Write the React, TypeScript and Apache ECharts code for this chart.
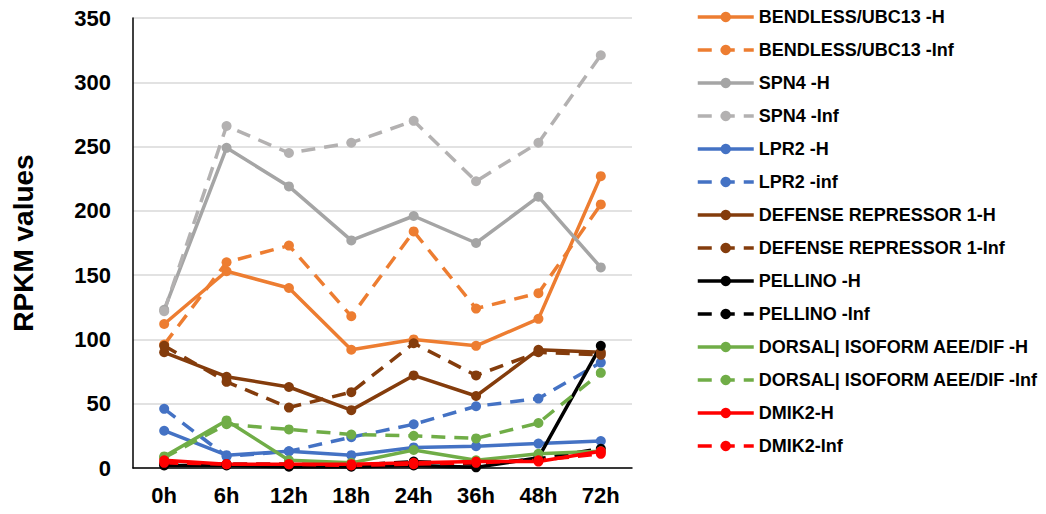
import React, { useEffect, useRef } from "react";
import * as echarts from "echarts";

const categories = ["0h", "6h", "12h", "18h", "24h", "36h", "48h", "72h"];

const bendlessH = [112, 153, 140, 92, 100, 95, 116, 227];
const bendlessInf = [96, 160, 173, 118, 184, 124, 136, 205];
const spn4H = [123, 249, 219, 177, 196, 175, 211, 156];
const spn4Inf = [122, 266, 245, 253, 270, 223, 253, 321];
const lpr2H = [29, 10, 13, 10, 16, 17, 19, 21];
const lpr2Inf = [46, 9, 13, 24, 34, 48, 54, 82];
const defenseH = [90, 71, 63, 45, 72, 56, 92, 90];
const defenseInf = [95, 67, 47, 59, 97, 72, 90, 88];
const pellinoH = [2, 2, 1, 1, 2, 0.5, 8, 95];
const pellinoInf = [3, 3, 3, 2, 5, 3, 7, 15];
const dorsalH = [9, 37, 6, 4, 14, 6, 11, 13];
const dorsalInf = [8, 34, 30, 26, 25, 23, 35, 74];
const dmik2H = [6, 3, 3, 3, 4, 5, 5, 13];
const dmik2Inf = [4, 3, 3, 2, 3, 4, 6, 11];

const seriesDefs = [
  { name: "BENDLESS/UBC13 -H", data: bendlessH, color: "#ED7D31", dashed: false },
  { name: "BENDLESS/UBC13 -Inf", data: bendlessInf, color: "#ED7D31", dashed: true },
  { name: "SPN4 -H", data: spn4H, color: "#A5A5A5", dashed: false },
  { name: "SPN4 -Inf", data: spn4Inf, color: "#B3B1B1", dashed: true },
  { name: "LPR2 -H", data: lpr2H, color: "#4472C4", dashed: false },
  { name: "LPR2 -inf", data: lpr2Inf, color: "#4472C4", dashed: true },
  { name: "DEFENSE REPRESSOR 1-H", data: defenseH, color: "#843C0C", dashed: false },
  { name: "DEFENSE REPRESSOR 1-Inf", data: defenseInf, color: "#843C0C", dashed: true },
  { name: "PELLINO -H", data: pellinoH, color: "#000000", dashed: false },
  { name: "PELLINO -Inf", data: pellinoInf, color: "#000000", dashed: true },
  { name: "DORSAL| ISOFORM AEE/DIF -H", data: dorsalH, color: "#70AD47", dashed: false },
  { name: "DORSAL| ISOFORM AEE/DIF -Inf", data: dorsalInf, color: "#70AD47", dashed: true },
  { name: "DMIK2-H", data: dmik2H, color: "#FF0000", dashed: false },
  { name: "DMIK2-Inf", data: dmik2Inf, color: "#FF0000", dashed: true },
];

const FONT = "Liberation Sans, Arial, sans-serif";

export default function App() {
  const ref = useRef<HTMLDivElement>(null);
  useEffect(() => {
    if (!ref.current) return;
    const chart = echarts.init(ref.current, null, { renderer: "svg" });
    chart.setOption({
      animation: false,
      backgroundColor: "#ffffff",
      grid: { left: 133, top: 18, width: 499, bottom: 46 },
      legend: {
        orient: "vertical",
        left: 696,
        top: 8,
        padding: 0,
        itemWidth: 56,
        itemHeight: 13,
        itemGap: 15,
        data: seriesDefs.map((s) => s.name),
        lineStyle: { width: 3.5 },
        textStyle: { fontFamily: FONT, fontSize: 18, fontWeight: "bold", color: "#000" },
      },
      xAxis: {
        type: "category",
        data: categories,
        boundaryGap: true,
        axisLine: { lineStyle: { color: "#000", width: 1.5 } },
        axisTick: { show: false },
        axisLabel: { fontFamily: FONT, fontSize: 22, fontWeight: "bold", color: "#000", margin: 16 },
        splitLine: { show: false },
      },
      yAxis: {
        type: "value",
        min: 0,
        max: 350,
        interval: 50,
        name: "RPKM values",
        nameLocation: "middle",
        nameGap: 96,
        nameTextStyle: { fontFamily: FONT, fontSize: 28, fontWeight: "bold", color: "#000" },
        axisLine: { show: true, lineStyle: { color: "#000", width: 1.5 } },
        axisTick: { show: false },
        axisLabel: { fontFamily: FONT, fontSize: 22, fontWeight: "bold", color: "#000", margin: 22 },
        splitLine: { lineStyle: { color: "#D9D9D9", width: 1.5 } },
      },
      series: seriesDefs.map((s) => ({
        name: s.name,
        type: "line",
        data: s.data,
        symbol: "circle",
        symbolSize: 10,
        showSymbol: true,
        itemStyle: { color: s.color },
        lineStyle: { color: s.color, width: 3.5, type: s.dashed ? [14, 9] : "solid" },
      })),
    });
    return () => chart.dispose();
  }, []);
  return (
    <div
      ref={ref}
      style={{ position: "fixed", left: 0, top: 0, width: 1046, height: 514 }}
    />
  );
}
